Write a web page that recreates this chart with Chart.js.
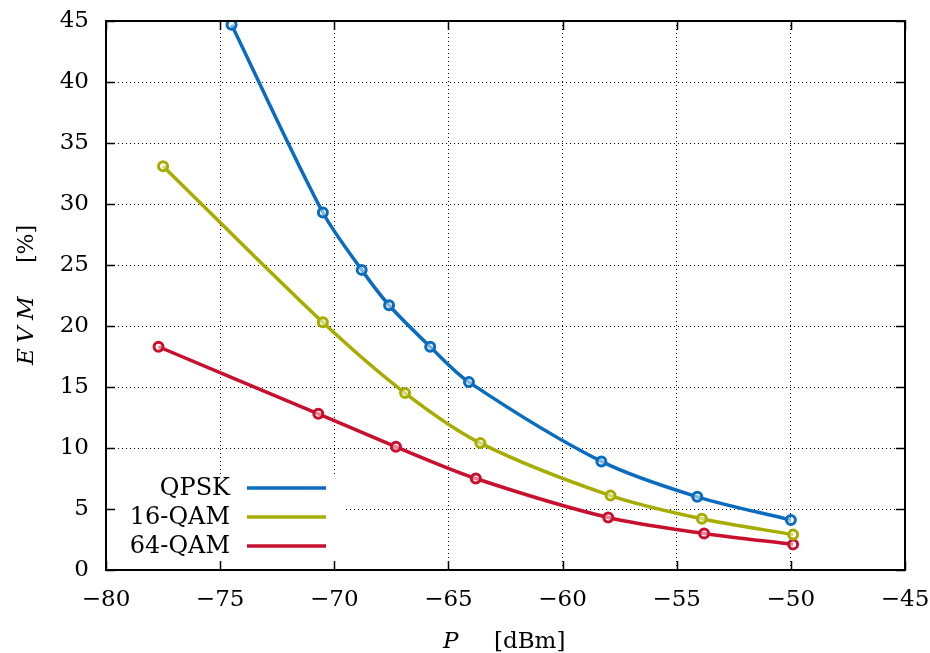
<!DOCTYPE html>
<html>
<head>
<meta charset="utf-8">
<script src="https://cdn.jsdelivr.net/npm/chart.js@4.4.1/dist/chart.umd.min.js"></script>
<style>
  body { margin: 0; background: #fff; }
  #wrap { width: 930px; height: 653px; }
</style>
</head>
<body>
<div id="wrap"><canvas id="myChart"></canvas></div>
<script>
// data
const seriesNames = ['QPSK', '16-QAM', '64-QAM']
const seriesColors = ['#0a6cbf', '#a7ad00', '#c8102e']

const qpskX = [-74.5, -70.5, -68.8, -67.6, -65.8, -64.1, -58.3, -54.1, -50.0]
const qpskY = [44.7, 29.3, 24.6, 21.7, 18.3, 15.4, 8.9, 6.0, 4.1]

const qam16X = [-77.5, -70.5, -66.9, -63.6, -57.9, -53.9, -49.9]
const qam16Y = [33.1, 20.3, 14.5, 10.4, 6.1, 4.2, 2.9]

const qam64X = [-77.7, -70.7, -67.3, -63.8, -58.0, -53.8, -49.9]
const qam64Y = [18.3, 12.8, 10.1, 7.5, 4.3, 3.0, 2.1]

const xTicks = [-80, -75, -70, -65, -60, -55, -50, -45]
const yTicks = [0, 5, 10, 15, 20, 25, 30, 35, 40, 45]

const fontFam = '"DejaVu Serif", "Liberation Serif", serif'

function pts(xs, ys) {
    return xs.map((x, i) => ({ x: x, y: ys[i] }))
}

const allX = [qpskX, qam16X, qam64X]
const allY = [qpskY, qam16Y, qam64Y]

const datasets = seriesNames.map((name, i) => ({
    label: name,
    data: pts(allX[i], allY[i]),
    borderColor: seriesColors[i],
    backgroundColor: '#ffffff',
    borderWidth: 3.5,
    pointRadius: 4.5,
    pointBorderWidth: 3,
    pointBackgroundColor: 'rgba(255,255,255,0.5)',
    pointBorderColor: seriesColors[i],
    tension: 0.3,
    fill: false
}))

// frame, inward ticks, legend and axis titles
const decor = {
    id: 'decor',
    beforeDatasetsDraw(chart) {
        // white box behind legend
        const ctx = chart.ctx
        const xs = chart.scales.x, ys = chart.scales.y
        ctx.save()
        ctx.fillStyle = '#fff'
        ctx.fillRect(xs.left + 1, 474, 343 - xs.left, ys.bottom - 474 - 1)
        ctx.restore()
    },
    afterDraw(chart) {
        const ctx = chart.ctx
        const xs = chart.scales.x, ys = chart.scales.y
        const a = chart.chartArea
        ctx.save()
        ctx.strokeStyle = '#000'
        ctx.lineWidth = 1.5
        ctx.beginPath()
        xTicks.forEach(v => {
            const px = Math.round(xs.getPixelForValue(v)) + 0.5
            ctx.moveTo(px, a.bottom); ctx.lineTo(px, a.bottom - 9)
            ctx.moveTo(px, a.top); ctx.lineTo(px, a.top + 9)
        })
        yTicks.forEach(v => {
            const py = Math.round(ys.getPixelForValue(v)) + 0.5
            ctx.moveTo(a.left, py); ctx.lineTo(a.left + 9, py)
            ctx.moveTo(a.right, py); ctx.lineTo(a.right - 9, py)
        })
        ctx.stroke()
        ctx.lineWidth = 2
        ctx.strokeRect(a.left, a.top, a.right - a.left, a.bottom - a.top)

        // legend
        ctx.font = '24px ' + fontFam
        ctx.textAlign = 'right'
        ctx.textBaseline = 'middle'
        chart.data.datasets.forEach((ds, i) => {
            const y = 488 + i * 29
            ctx.fillStyle = '#000'
            ctx.fillText(ds.label, 230, y + 1)
            ctx.strokeStyle = ds.borderColor
            ctx.lineWidth = 3.5
            ctx.beginPath()
            ctx.moveTo(247, y); ctx.lineTo(326, y)
            ctx.stroke()
        })

        // axis titles
        ctx.fillStyle = '#000'
        ctx.textBaseline = 'alphabetic'
        ctx.textAlign = 'left'
        ctx.font = 'italic 23px ' + fontFam
        ctx.fillText('P', 443, 648)
        ctx.font = '23px ' + fontFam
        ctx.fillText('[dBm]', 494, 648)

        ctx.translate(33, 0)
        ctx.rotate(-Math.PI / 2)
        ctx.font = 'italic 23px ' + fontFam
        ctx.fillText('E', -365, 0)
        ctx.fillText('V', -343, 0)
        ctx.fillText('M', -320, 0)
        ctx.font = '22px ' + fontFam
        ctx.fillText('[%]', -263, 0)
        ctx.restore()
    }
}

const config = {
    type: 'line',
    data: { datasets: datasets },
    options: {
        responsive: true,
        maintainAspectRatio: false,
        animation: false,
        layout: { padding: { left: 0, right: 25, top: 21, bottom: 0 } },
        plugins: {
            legend: { display: false },
            tooltip: { enabled: false }
        },
        scales: {
            x: {
                type: 'linear',
                min: -80,
                max: -45,
                afterBuildTicks: s => { s.ticks = xTicks.map(v => ({ value: v })) },
                afterFit: s => { s.height = 83; s.paddingLeft = 0; s.paddingRight = 0 },
                border: { display: false },
                grid: { color: '#000', lineWidth: 1, drawTicks: false },
                ticks: {
                    color: '#000',
                    padding: 16,
                    maxRotation: 0,
                    font: { family: fontFam, size: 23 },
                    callback: v => (v < 0 ? '\u2212' + Math.abs(v) : '' + v)
                }
            },
            y: {
                min: 0,
                max: 45,
                afterBuildTicks: s => { s.ticks = yTicks.map(v => ({ value: v })) },
                afterFit: s => { s.width = 106; s.paddingTop = 0; s.paddingBottom = 0 },
                border: { display: false },
                grid: { color: '#000', lineWidth: 1, drawTicks: false },
                ticks: {
                    color: '#000',
                    padding: 17,
                    font: { family: fontFam, size: 23 }
                }
            }
        }
    },
    plugins: [decor]
}

// dotted grid
config.options.scales.x.border.dash = [1, 3]
config.options.scales.y.border.dash = [1, 3]

const myChart = new Chart(document.getElementById('myChart'), config)
</script>
</body>
</html>
